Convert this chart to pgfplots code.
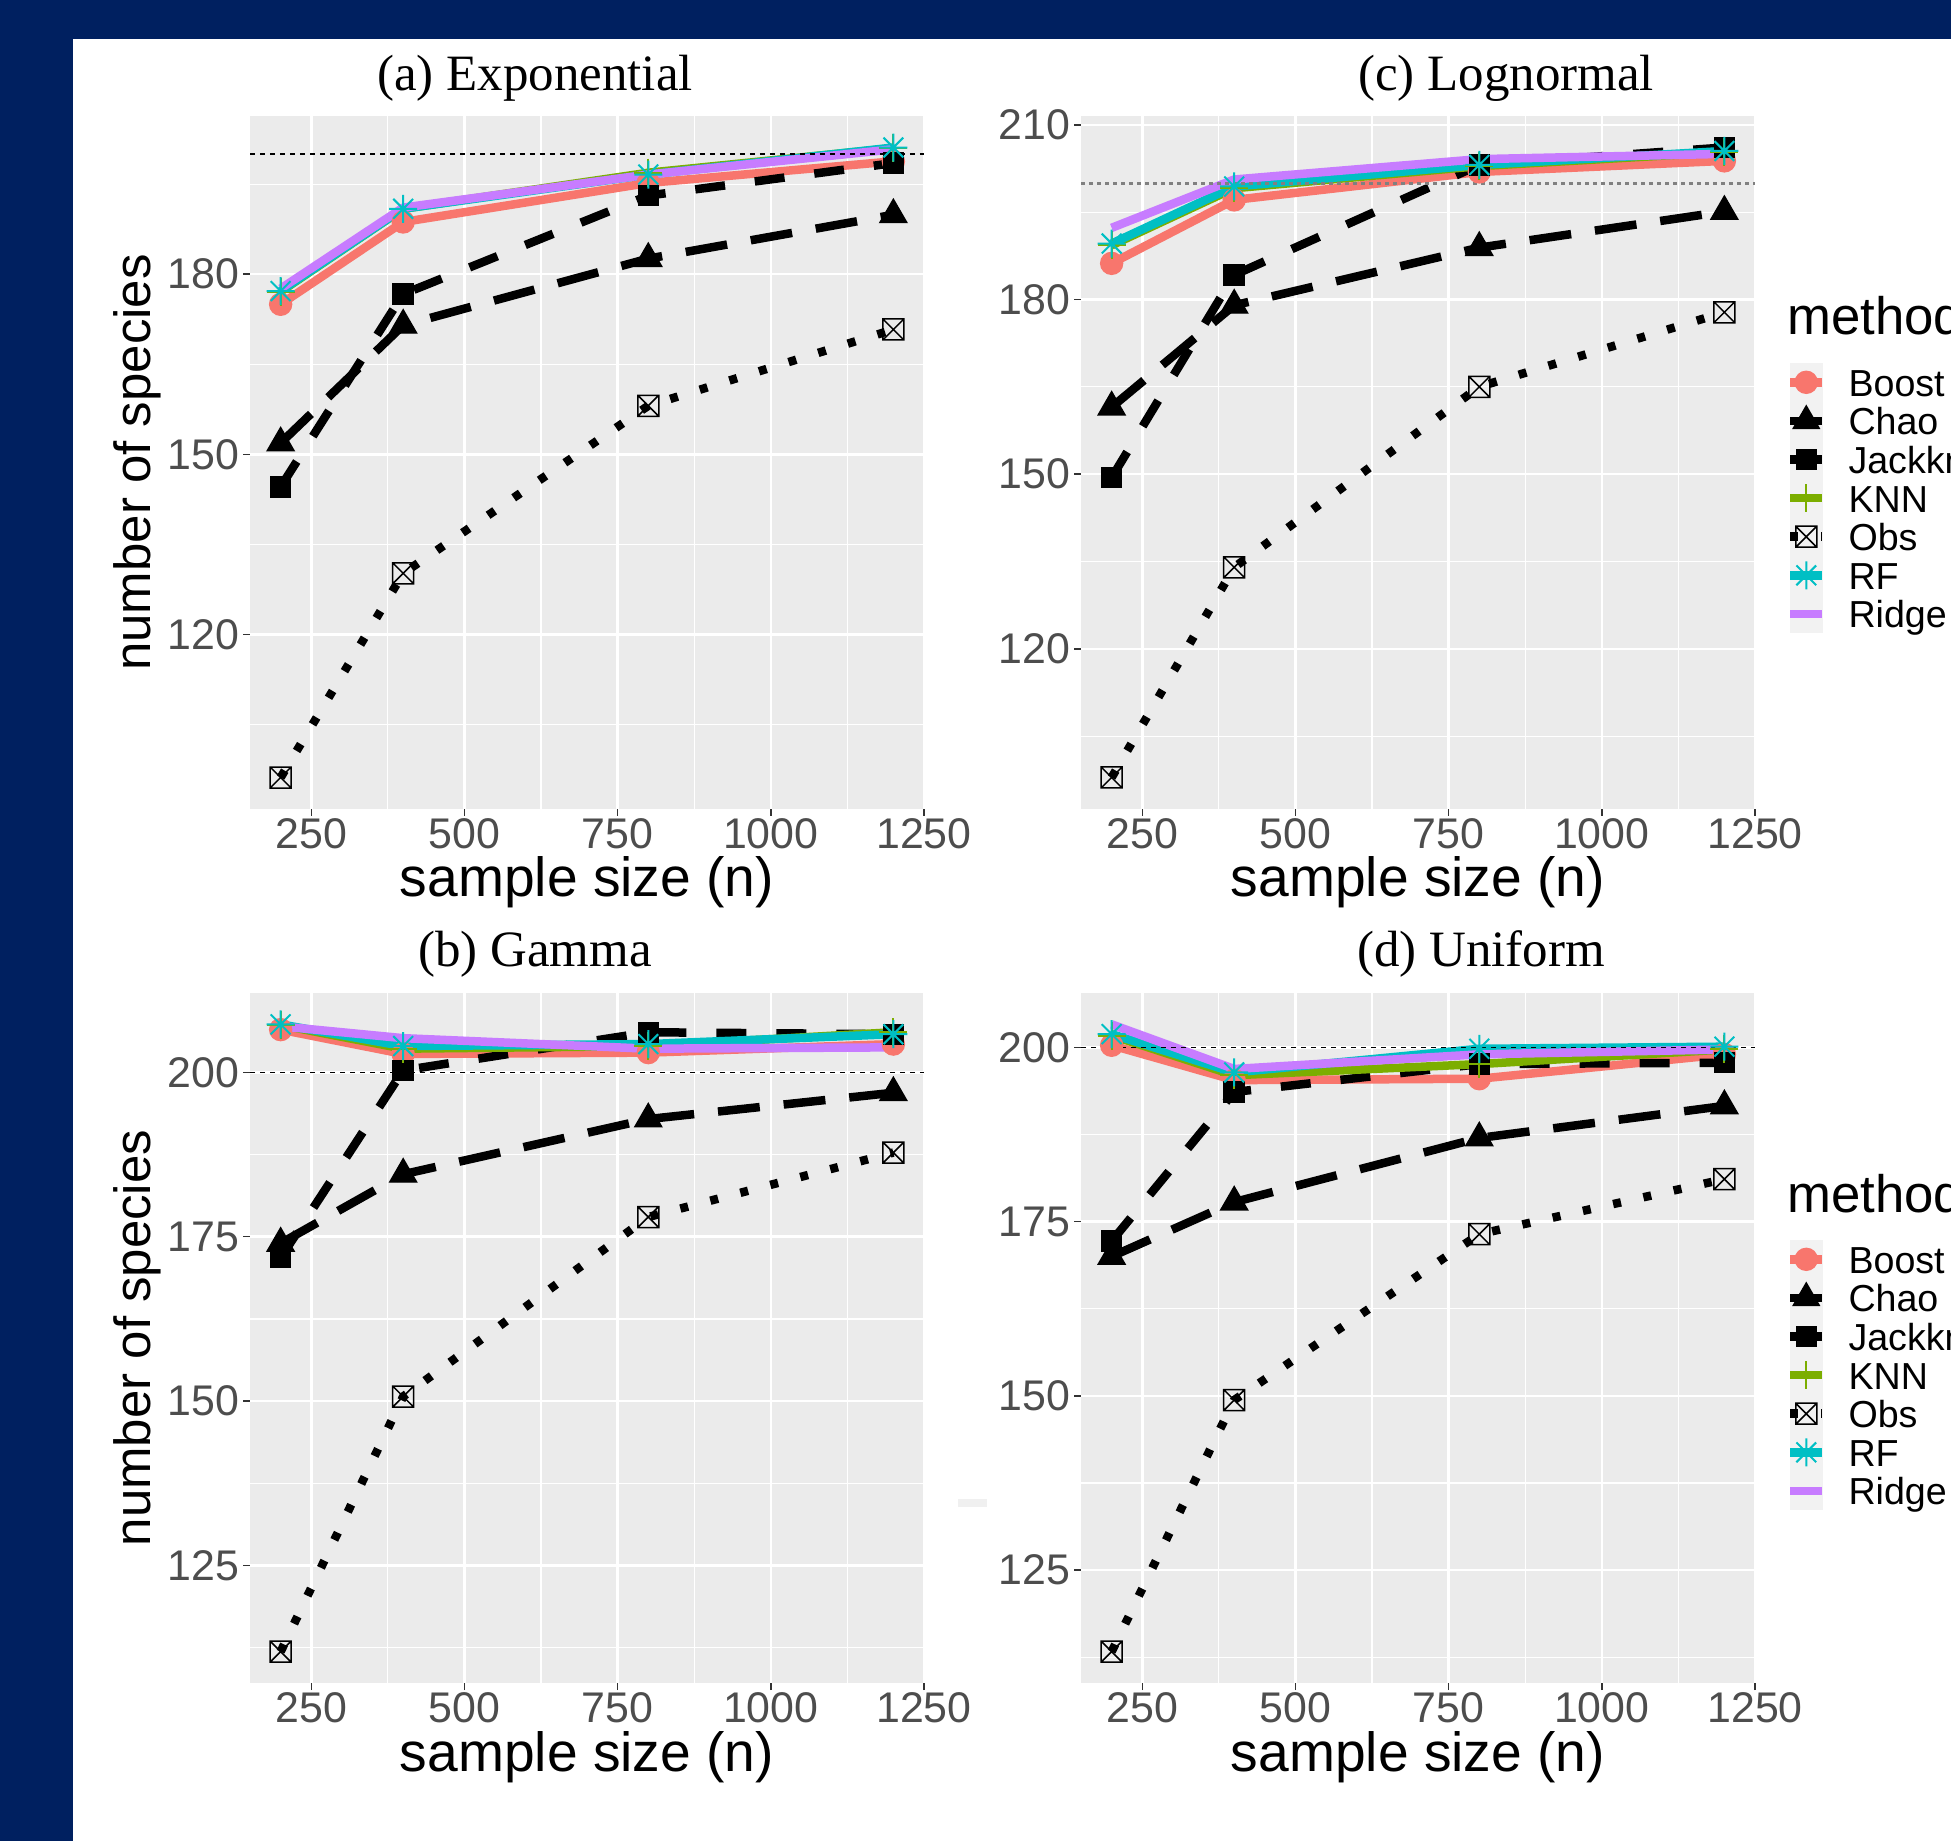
\documentclass[border=0pt]{standalone}
\usepackage{fontspec}
\setmainfont{Liberation Sans}
\newfontfamily\titlefont{Liberation Serif}
\usepackage{pgfplots}
\usepackage{pgfplotstable}
\pgfplotsset{compat=1.18}

\definecolor{navy}{HTML}{002060}
\definecolor{panelbg}{HTML}{EBEBEB}
\definecolor{keybg}{HTML}{F2F2F2}
\definecolor{tickgray}{HTML}{4D4D4D}
\definecolor{tickdark}{HTML}{333333}
\definecolor{cBoost}{HTML}{F8766D}
\definecolor{cKNN}{HTML}{7CAE00}
\definecolor{cRF}{HTML}{00BFC4}
\definecolor{cRidge}{HTML}{C77CFF}

% square with a cross (R pch 7) and eight-ray asterisk (R pch 8)
\pgfdeclareplotmark{boxx}{%
  \pgfpathrectangle{\pgfpoint{-\pgfplotmarksize}{-\pgfplotmarksize}}{\pgfpoint{2\pgfplotmarksize}{2\pgfplotmarksize}}%
  \pgfpathmoveto{\pgfpoint{-\pgfplotmarksize}{-\pgfplotmarksize}}\pgfpathlineto{\pgfpoint{\pgfplotmarksize}{\pgfplotmarksize}}%
  \pgfpathmoveto{\pgfpoint{-\pgfplotmarksize}{\pgfplotmarksize}}\pgfpathlineto{\pgfpoint{\pgfplotmarksize}{-\pgfplotmarksize}}%
  \pgfusepathqstroke}
\pgfdeclareplotmark{star8}{%
  \pgfpathmoveto{\pgfpoint{-\pgfplotmarksize}{0pt}}\pgfpathlineto{\pgfpoint{\pgfplotmarksize}{0pt}}%
  \pgfpathmoveto{\pgfpoint{0pt}{-\pgfplotmarksize}}\pgfpathlineto{\pgfpoint{0pt}{\pgfplotmarksize}}%
  \pgfpathmoveto{\pgfpoint{-.707\pgfplotmarksize}{-.707\pgfplotmarksize}}\pgfpathlineto{\pgfpoint{.707\pgfplotmarksize}{.707\pgfplotmarksize}}%
  \pgfpathmoveto{\pgfpoint{-.707\pgfplotmarksize}{.707\pgfplotmarksize}}\pgfpathlineto{\pgfpoint{.707\pgfplotmarksize}{-.707\pgfplotmarksize}}%
  \pgfusepathqstroke}

% estimated number of species, one table per distribution
\pgfplotstableread{
n    Boost Chao  Jackknife KNN   Obs   RF    Ridge
200  175.0 151.9 144.6     177.1 96.2  177.2 177.6
400  188.7 171.5 176.7     190.9 130.2 190.9 191.1
800  195.2 182.6 193.1     196.9 158.1 196.6 196.6
1200 198.8 189.9 198.5     201.0 170.8 201.1 200.8
}\tabExp
\pgfplotstableread{
n    Boost Chao  Jackknife KNN   Obs   RF    Ridge
200  186.2 161.5 149.4     189.3 97.9  189.6 192.3
400  197.1 179.0 184.2     199.1 134.0 199.4 200.6
800  201.9 188.9 203.1     202.9 165.0 203.1 204.1
1200 203.8 195.1 206.1     205.3 177.8 205.5 205.0
}\tabLog
\pgfplotstableread{
n    Boost Chao  Jackknife KNN   Obs   RF    Ridge
200  206.5 174.0 171.8     207.2 111.9 207.3 207.0
400  202.8 184.5 200.3     203.6 150.7 204.0 205.2
800  203.0 192.9 206.1     204.0 178.0 204.3 203.6
1200 204.3 196.9 205.8     206.1 187.8 205.8 203.8
}\tabGam
\pgfplotstableread{
n    Boost Chao  Jackknife KNN   Obs   RF    Ridge
200  200.3 170.0 172.2     201.7 113.3 201.9 203.3
400  195.3 177.8 193.6     196.0 149.4 196.4 196.9
800  195.5 187.0 197.6     197.6 173.2 199.8 199.0
1200 199.0 191.6 197.8     199.7 181.1 200.1 199.7
}\tabUni
\pgfplotstableread{
n    y
150  200
1250 200
}\tabTrue

\pgfplotsset{
  panel/.style={
    scale only axis, width=67.4mm, clip=false,
    xmin=150, xmax=1250,
    xtick={250,500,750,1000,1250},
    minor xtick={375,625,875,1125},
    axis background/.style={fill=panelbg},
    axis line style={draw=none},
    grid=both,
    major grid style={white, line width=0.25mm},
    minor grid style={white, line width=0.12mm},
    tick align=outside,
    xtick pos=left, ytick pos=left,
    major tick length=0.7mm,
    minor tick length=0pt,
    every tick/.style={tickdark, line width=0.15mm},
    tick label style={font=\fontsize{12.2}{12.2}\selectfont, text=tickgray, inner sep=0pt},
    /pgf/number format/assume math mode=true,
    /pgf/number format/1000 sep={},
    xticklabel style={anchor=north, yshift=-0.2mm},
    yticklabel style={anchor=east, xshift=-0.3mm},
    xlabel={sample size (n)},
    every axis x label/.style={at={(axis description cs:0.5,0)}, anchor=base, yshift=-8.8mm,
      font=\fontsize{15.7}{15.7}\selectfont},
    every axis y label/.style={at={([xshift=-11.3mm]axis description cs:0,0.5)}, rotate=90, anchor=center,
      font=\fontsize{14.5}{14.5}\selectfont},
  },
  line/.style={forget plot, line width=0.85mm, line join=round, line cap=butt},
  pts/.style={forget plot, only marks},
  key/.style 2 args={legend image code/.code={%
    \fill[keybg] (0mm,-1.86mm) rectangle (3.2mm,1.86mm);
    \draw[#1] (0mm,0mm) -- (3.2mm,0mm);
    \path[#2] plot coordinates {(1.6mm,0mm)};}},
  keys/.style={
    legend cell align=left,
    legend style={at={(axis description cs:1,1)}, anchor=north west, xshift=3.1mm, yshift=-24.7mm,
      draw=none, fill=none, inner sep=0pt, outer sep=0pt, row sep=0pt, column sep=2.2mm,
      font=\fontsize{10.7}{10.7}\selectfont,
      nodes={inner sep=0pt, text height=3.25mm, text depth=0.47mm}},
  },
}

\newcommand{\drawseries}[2]{%
  \addplot[line, cBoost] table[x=n, y=Boost] {#1};
  \addplot[line, black, dash pattern=on 4.2mm off 2.4mm] table[x=n, y=Chao] {#1};
  \addplot[line, black, dash pattern=on 3mm off 3mm] table[x=n, y=Jackknife] {#1};
  \addplot[line, cKNN] table[x=n, y=KNN] {#1};
  \addplot[line, black, dash pattern=on 0.8mm off 2.3mm] table[x=n, y=Obs] {#1};
  \addplot[line, cRF] table[x=n, y=RF] {#1};
  \addplot[line, cRidge] table[x=n, y=Ridge] {#1};
  \addplot[forget plot, #2] table[x=n, y=y] {\tabTrue};
  \addplot[pts, mark=*, cBoost, mark size=1.1mm] table[x=n, y=Boost] {#1};
  \addplot[pts, mark=triangle*, black, mark size=1.55mm] table[x=n, y=Chao] {#1};
  \addplot[pts, mark=square*, black, mark size=1.0mm] table[x=n, y=Jackknife] {#1};
  \addplot[pts, mark=+, cKNN, mark size=1.4mm, line width=0.2mm] table[x=n, y=KNN] {#1};
  \addplot[pts, mark=boxx, black, mark size=1.05mm, line width=0.15mm] table[x=n, y=Obs] {#1};
  \addplot[pts, mark=star8, cRF, mark size=1.4mm, line width=0.2mm] table[x=n, y=RF] {#1};
}

\newcommand{\methodlegend}{%
  \addlegendimage{key={cBoost, line width=0.85mm}{draw=cBoost, fill=cBoost, mark=*, mark size=1.1mm}}
  \addlegendentry{Boost}
  \addlegendimage{key={black, line width=0.85mm}{draw=black, fill=black, mark=triangle*, mark size=1.5mm}}
  \addlegendentry{Chao}
  \addlegendimage{key={black, line width=0.85mm}{draw=black, fill=black, mark=square*, mark size=1.0mm}}
  \addlegendentry{Jackknife}
  \addlegendimage{key={cKNN, line width=0.85mm}{draw=cKNN, mark=+, mark size=1.4mm, line width=0.2mm}}
  \addlegendentry{KNN}
  \addlegendimage{key={black, line width=0.85mm, dash pattern=on 0.8mm off 2.3mm}{draw=black, mark=boxx, mark size=1.05mm, line width=0.15mm}}
  \addlegendentry{Obs}
  \addlegendimage{key={cRF, line width=0.85mm}{draw=cRF, mark=star8, mark size=1.4mm, line width=0.2mm}}
  \addlegendentry{RF}
  \addlegendimage{key={cRidge, line width=0.85mm}{}}
  \addlegendentry{Ridge}
  \node[anchor=base west, xshift=2.0mm, yshift=-21.9mm, font=\fontsize{15.0}{15.0}\selectfont]
    at (axis description cs:1,1) {method};
}

\begin{document}
\begin{tikzpicture}
\path[use as bounding box, clip] (0,0) rectangle (195.1mm,184.1mm);
\fill[navy] (0,0) rectangle (195.1mm,184.1mm);
\fill[white] (7.3mm,0) rectangle (195.1mm,180.2mm);
\fill[black!6] (95.8mm,33.4mm) rectangle (98.7mm,34.2mm);

\node[anchor=base, font=\titlefont\fontsize{14.5}{14.5}\selectfont] at (53.5mm,175.0mm) {(a) Exponential};
\node[anchor=base, font=\titlefont\fontsize{14.5}{14.5}\selectfont] at (150.6mm,175.0mm) {(c) Lognormal};
\node[anchor=base, font=\titlefont\fontsize{14.5}{14.5}\selectfont] at (53.5mm,87.4mm) {(b) Gamma};
\node[anchor=base, font=\titlefont\fontsize{14.5}{14.5}\selectfont] at (148.1mm,87.4mm) {(d) Uniform};

% (a) Exponential
\begin{axis}[panel, at={(25.0mm,103.2mm)}, anchor=south west, height=69.3mm,
  ymin=90.96, ymax=206.35, ytick={120,150,180}, minor ytick={105,135,165,195},
  ylabel={number of species}]
\drawseries{\tabExp}{black, line width=0.15mm, dash pattern=on 0.5mm off 0.5mm}
\end{axis}

% (c) Lognormal
\begin{axis}[panel, keys, at={(108.1mm,103.2mm)}, anchor=south west, height=69.3mm,
  ymin=92.49, ymax=211.51, ytick={120,150,180,210}, minor ytick={105,135,165,195}]
\drawseries{\tabLog}{black!50, line width=0.3mm, dash pattern=on 0.35mm off 0.45mm}
\methodlegend
\end{axis}

% (b) Gamma
\begin{axis}[panel, at={(25.0mm,15.8mm)}, anchor=south west, height=69.0mm,
  ymin=107.13, ymax=212.07, ytick={125,150,175,200}, minor ytick={112.5,137.5,162.5,187.5},
  ylabel={number of species}]
\drawseries{\tabGam}{black, line width=0.15mm, dash pattern=on 0.5mm off 0.5mm}
\end{axis}

% (d) Uniform
\begin{axis}[panel, keys, at={(108.1mm,15.8mm)}, anchor=south west, height=69.0mm,
  ymin=108.8, ymax=207.8, ytick={125,150,175,200}, minor ytick={112.5,137.5,162.5,187.5}]
\drawseries{\tabUni}{black, line width=0.15mm, dash pattern=on 0.5mm off 0.5mm}
\methodlegend
\end{axis}
\end{tikzpicture}
\end{document}
